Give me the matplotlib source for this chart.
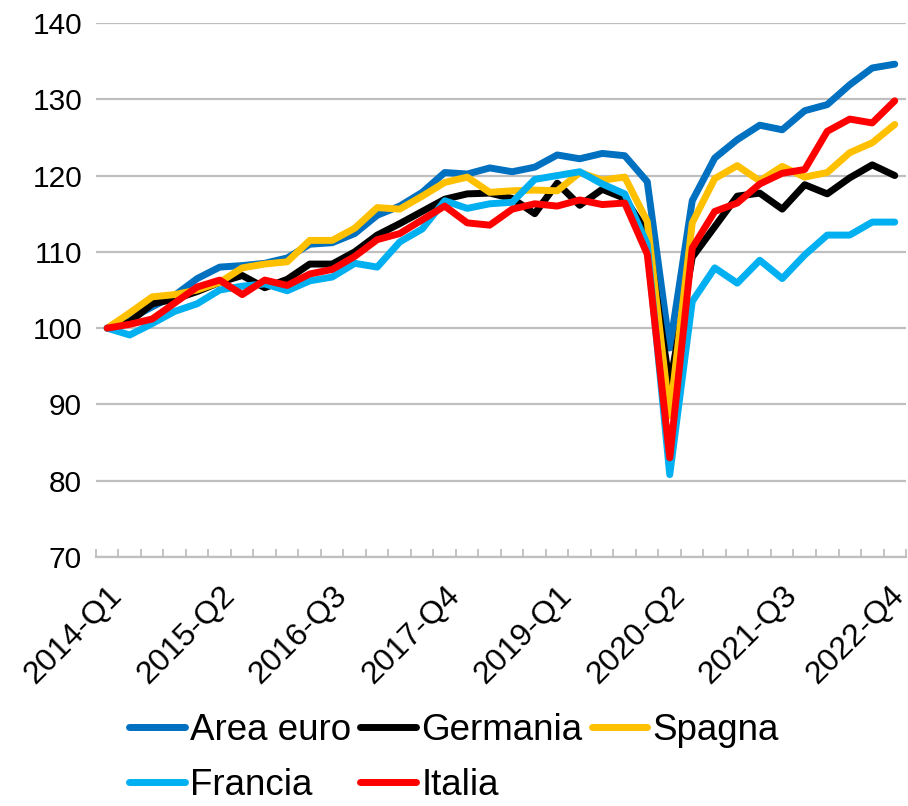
import matplotlib
matplotlib.use("Agg")
import matplotlib.pyplot as plt
import matplotlib.transforms as mtransforms
import numpy as np

plt.rcParams['font.family'] = ['Liberation Sans', 'DejaVu Sans']

# dati: indice 2014-Q1 = 100
trimestri = [f"{a}-Q{q}" for a in range(2014, 2023) for q in range(1, 5)]

area_euro = [100.0, 101.2, 102.8, 104.3, 106.5, 108.0, 108.2, 108.5, 109.2, 111.0,
             111.2, 112.4, 114.8, 116.0, 117.8, 120.4, 120.2, 121.0, 120.5, 121.1,
             122.7, 122.2, 122.9, 122.6, 119.2, 97.4, 116.7, 122.3, 124.7, 126.6,
             126.0, 128.5, 129.3, 131.9, 134.1, 134.6]
germania = [100.0, 100.8, 103.2, 103.8, 104.8, 106.0, 106.9, 105.3, 106.4, 108.4,
            108.4, 110.0, 112.2, 113.7, 115.3, 116.9, 117.6, 117.7, 117.0, 115.0,
            119.0, 116.1, 118.2, 117.0, 112.5, 92.5, 109.3, 113.3, 117.3, 117.7,
            115.6, 118.8, 117.6, 119.7, 121.4, 120.0]
spagna = [100.0, 102.0, 104.1, 104.4, 105.0, 106.0, 107.9, 108.4, 108.7, 111.5,
          111.5, 113.1, 115.8, 115.6, 117.3, 119.1, 119.8, 117.8, 118.0, 118.1,
          118.0, 120.4, 119.4, 119.8, 114.0, 88.5, 113.8, 119.6, 121.3, 119.3,
          121.2, 119.8, 120.4, 123.0, 124.3, 126.7]
francia = [100.0, 99.1, 100.6, 102.2, 103.2, 105.0, 105.5, 105.8, 104.9, 106.2,
           106.7, 108.5, 108.0, 111.3, 113.0, 116.7, 115.7, 116.3, 116.5, 119.5,
           120.0, 120.5, 118.9, 117.6, 111.0, 80.8, 103.5, 107.9, 105.9, 108.9,
           106.5, 109.6, 112.2, 112.2, 113.9, 113.9]
italia = [100.0, 100.5, 101.2, 103.3, 105.4, 106.3, 104.4, 106.3, 105.6, 107.1,
          107.7, 109.4, 111.6, 112.4, 114.2, 116.0, 113.8, 113.5, 115.6, 116.3,
          116.0, 116.8, 116.2, 116.4, 109.7, 83.0, 110.5, 115.3, 116.4, 118.9,
          120.3, 120.8, 125.8, 127.4, 126.9, 129.8]

serie = [
    ("Area euro", area_euro, "#0070C0"),
    ("Germania", germania, "#000000"),
    ("Spagna", spagna, "#FFC000"),
    ("Francia", francia, "#00B0F0"),
    ("Italia", italia, "#FF0000"),
]

fig = plt.figure(figsize=(9.08, 8.06), dpi=100)
ax = fig.add_axes([0.1057, 0.3089, 0.8921, 0.6626])

x = np.arange(len(trimestri))
linee = {}
for nome, valori, colore in serie:
    linee[nome], = ax.plot(x, valori, color=colore, lw=5, label=nome,
                           solid_joinstyle='round', solid_capstyle='round')

ax.set_xlim(-0.5, len(trimestri) - 0.5)
ax.set_ylim(70, 140)
ax.set_yticks(range(70, 141, 10))
ax.yaxis.grid(True, color="#BFBFBF", lw=1.6)
ax.set_axisbelow(True)

for s in ["top", "right", "left"]:
    ax.spines[s].set_visible(False)
ax.spines["bottom"].set_color("#BFBFBF")
ax.spines["bottom"].set_linewidth(1.6)

ax.tick_params(axis="y", length=0, pad=10, labelsize=21.5)
ax.set_xticks(x[::5])
ax.set_xticklabels(trimestri[::5], rotation=45, ha="right", va="top",
                   rotation_mode="anchor", fontsize=23)
ax.set_xticks(np.arange(-0.5, len(trimestri)), minor=True)
ax.tick_params(axis="x", which="major", length=0, pad=17)
ax.tick_params(axis="x", which="minor", direction="in", length=6,
               color="#BFBFBF", width=1.3)

# l'ultima etichetta tocca il bordo: spostata un poco a sinistra
ultima = ax.get_xticklabels()[-1]
ultima.set_transform(ultima.get_transform() +
                     mtransforms.ScaledTranslation(-4 / 72, 0, fig.dpi_scale_trans))

# ordine per righe: Area euro, Germania, Spagna / Francia, Italia
ordine = ["Area euro", "Francia", "Germania", "Italia", "Spagna"]
fig.legend([linee[n] for n in ordine], ordine, loc="center",
           bbox_to_anchor=(0.5, 0.06), ncol=3, frameon=False,
           fontsize=26.5, handlelength=1.5, handletextpad=0.15,
           columnspacing=0.25, labelspacing=0.55, borderpad=0)

fig.savefig("out.png", dpi=100)
